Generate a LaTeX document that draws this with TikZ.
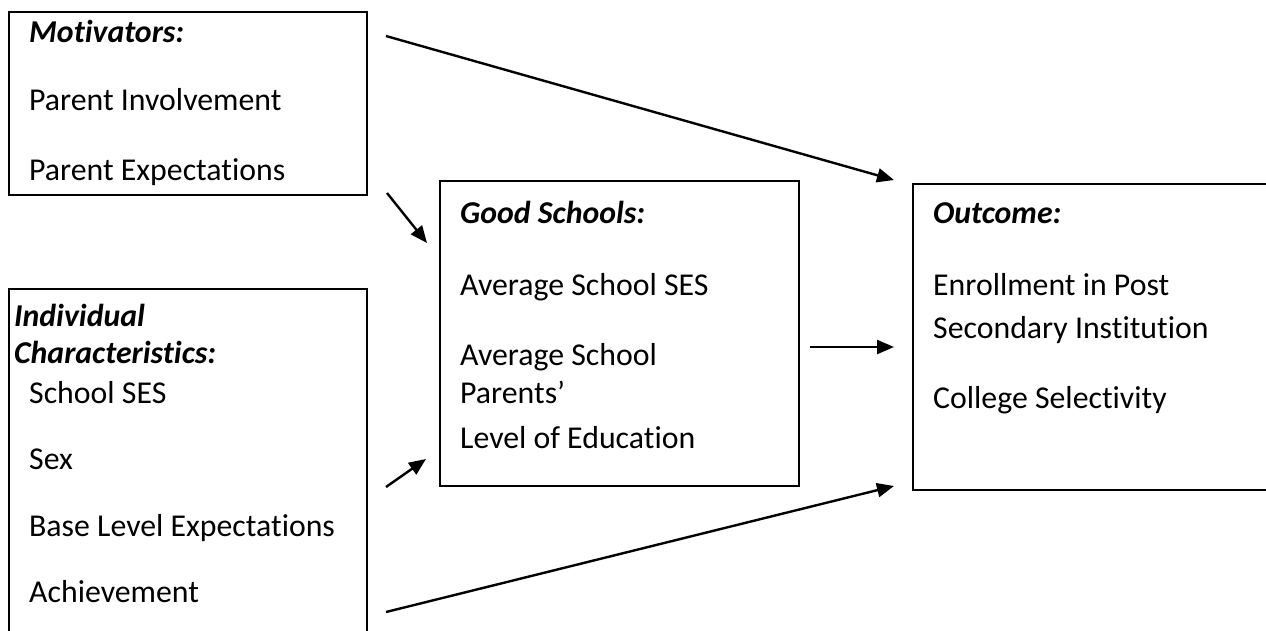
\documentclass[tikz,border=0pt]{standalone}
\usepackage{fontspec}
\setmainfont[Ligatures=NoCommon]{Carlito}
\usetikzlibrary{arrows.meta}
\tikzset{
  boxshape/.style={draw=black, line width=2pt, rectangle, inner sep=0pt, anchor=north west},
  txt/.style={anchor=base west, inner sep=0pt, font=\fontsize{31.8}{36}\selectfont},
  head/.style={txt, font=\fontsize{31.8}{36}\selectfont\bfseries\itshape},
  conn/.style={line width=2.4pt, -{Triangle[length=17pt,width=14pt]}}
}
\begin{document}
\begin{tikzpicture}[x=1pt,y=-1pt]
\useasboundingbox (0,0) rectangle (1266,630);
\clip (0,0) rectangle (1266,630);
% boxes
\node[boxshape, minimum width=358pt, minimum height=183pt] (mot) at (8,11) {};
\node[boxshape, minimum width=358pt, minimum height=380pt] (ind) at (8,288) {};
\node[boxshape, minimum width=359pt, minimum height=305pt] (good) at (439,180) {};
\node[boxshape, minimum width=400pt, minimum height=306pt] (out) at (912,183) {};
% texts
\node[head] (t1) at (29,42) {Motivators:};
\node[txt] (t2) at (29,110) {Parent Involvement};
\node[txt] (t3) at (29,180) {Parent Expectations};
\node[head] (t4) at (14,326) {Individual};
\node[head] (t5) at (14,363) {Characteristics:};
\node[txt] (t6) at (29,403) {School SES};
\node[txt] (t7) at (29,469) {Sex};
\node[txt] (t8) at (29,536) {Base Level Expectations};
\node[txt] (t9) at (29,602) {Achievement};
\node[head] (t10) at (460,223) {Good Schools:};
\node[txt] (t11) at (460,295) {Average School SES};
\node[txt] (t12) at (460,365) {Average School};
\node[txt] (t13) at (460,403) {Parents’};
\node[txt] (t14) at (460,448) {Level of Education};
\node[head] (t15) at (933,223) {Outcome:};
\node[txt] (t16) at (933,295) {Enrollment in Post};
\node[txt] (t17) at (933,338) {Secondary Institution};
\node[txt] (t18) at (933,408) {College Selectivity};
% connector ends
\coordinate (a1s) at (386,36);
\coordinate (a1e) at (894,180);
\coordinate (a2s) at (387,193);
\coordinate (a2e) at (427,243);
\coordinate (a3s) at (386,487);
\coordinate (a3e) at (426,459);
\coordinate (a4s) at (810,347);
\coordinate (a4e) at (894,347);
\coordinate (a5s) at (386,612);
\coordinate (a5e) at (894,486);
\draw[conn] (a1s) -- (a1e);
\draw[conn] (a2s) -- (a2e);
\draw[conn] (a3s) -- (a3e);
\draw[conn] (a4s) -- (a4e);
\draw[conn] (a5s) -- (a5e);
\end{tikzpicture}
\end{document}
